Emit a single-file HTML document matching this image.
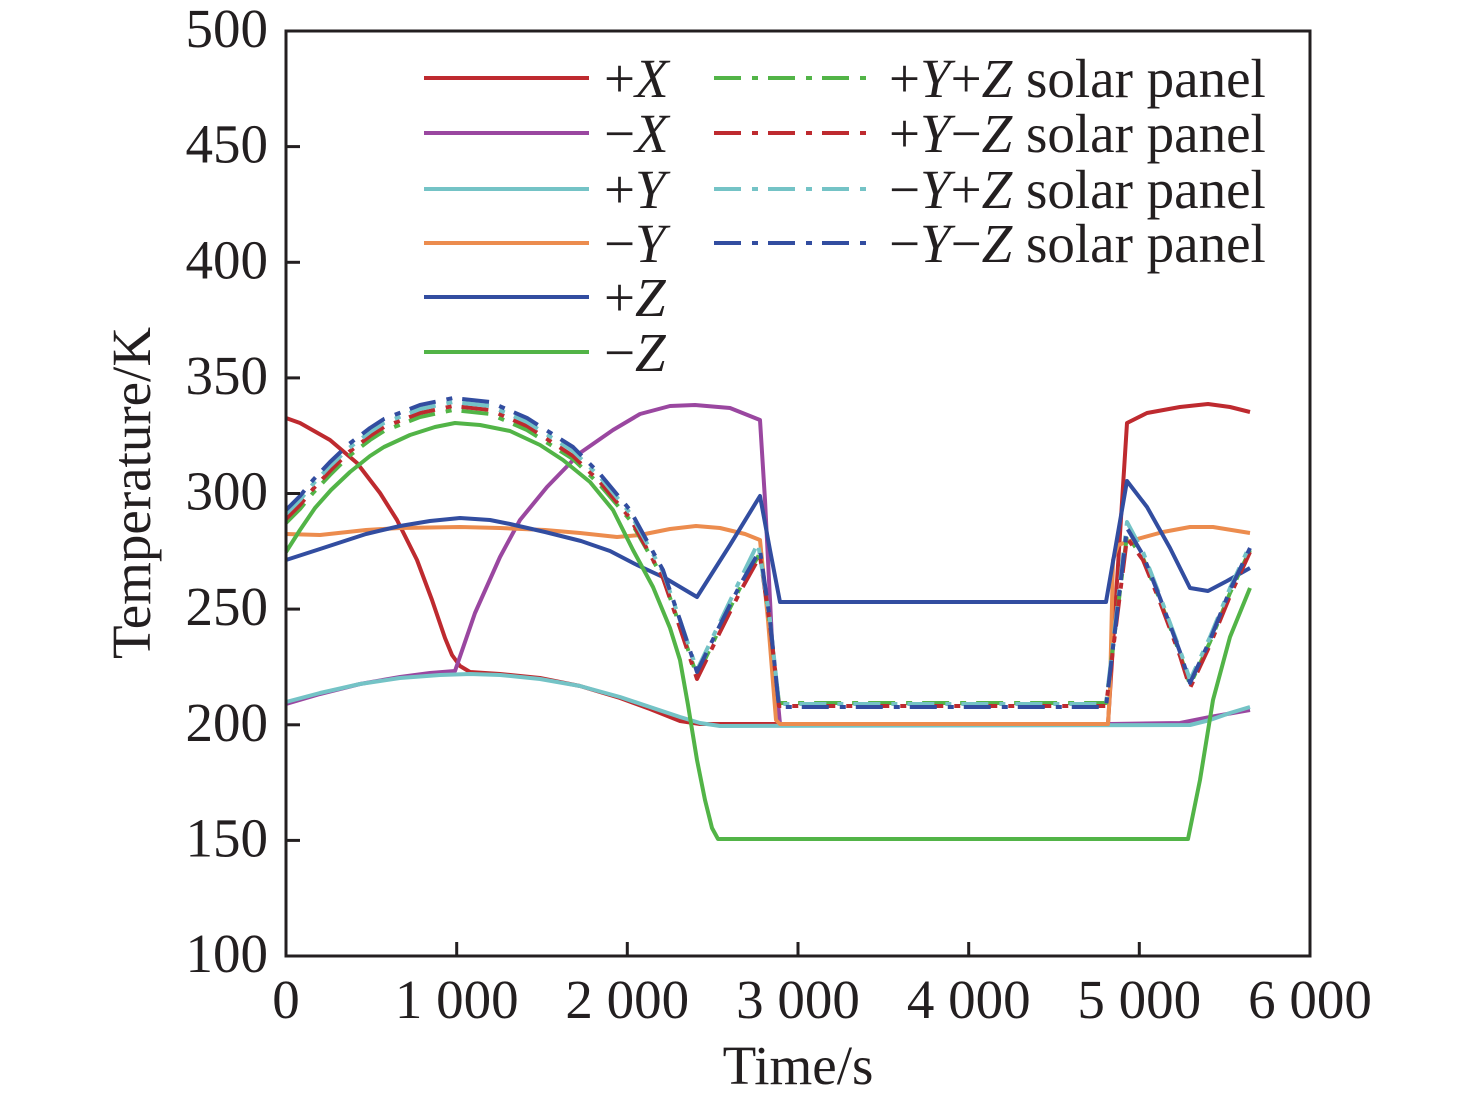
<!DOCTYPE html>
<html>
<head>
<meta charset="utf-8">
<style>
  html, body { margin:0; padding:0; background:#ffffff; }
  body { width:1476px; height:1104px; overflow:hidden; }
  svg { display:block; }
  text { font-family: "Liberation Serif", "Times New Roman", serif; fill:#231f20; }
</style>
</head>
<body>
<svg width="1476" height="1104" viewBox="0 0 1476 1104" xmlns="http://www.w3.org/2000/svg">
  <rect x="0" y="0" width="1476" height="1104" fill="#ffffff"/>

  <!-- Data series -->
  <g fill="none" stroke-linejoin="round" stroke-linecap="butt">
    <!-- +X red -->
    <polyline stroke="#be2a2f" stroke-width="4" points="286,418 300,423 330,440 357,463 380,493 397,520 417,560 432,600 445,638 452,655 460,666 470,672 500,674 540,678 580,686 620,698 650,709 680,721 700,724 1108,724 1127,423 1147,413 1180,407 1208,404 1230,407 1250,412"/>
    <!-- -X purple -->
    <polyline stroke="#9a47a0" stroke-width="4" points="286,704 320,694 360,684 400,677 430,673 455,671 475,613 500,557 520,520 547,487 580,453 613,430 640,414 670,406 695,405 730,408 760,420 765,500 772,640 780,724 1110,724 1180,723 1210,717 1250,710"/>
    <!-- +Y cyan -->
    <polyline stroke="#74c3c6" stroke-width="4" points="286,702 320,693 360,684 400,678 440,675 470,674 500,675 540,679 580,686 620,697 650,707 680,717 700,723 720,726 1190,725 1210,720 1230,713 1250,707"/>
    <!-- -Y orange -->
    <polyline stroke="#ec8c4e" stroke-width="4" points="286,534 320,535 366,530 400,528 460,527 500,528 545,530 580,533 617,537 640,535 670,529 696,526 720,528 745,534 760,540 768,620 776,720 780,724 1108,724 1110,690 1113,560 1118,545 1130,541 1163,532 1190,527 1213,527 1250,533"/>
    <!-- +Z blue -->
    <polyline stroke="#324da0" stroke-width="4" points="286,560 320,549 366,534 400,526 430,521 460,518 490,520 510,524 545,532 581,541 610,551 635,564 665,578 697,597 730,545 760,496 770,550 780,602 1106,602 1127,481 1147,507 1170,548 1190,588 1208,591 1227,581 1250,568"/>
    <!-- -Z green -->
    <polyline stroke="#52b447" stroke-width="4" points="286,552 300,530 315,508 331,490 350,472 370,456 384,447 410,435 435,427 455,423 480,425 510,431 540,445 563,460 590,482 613,510 633,550 653,587 670,628 680,660 688,705 697,760 705,800 712,828 718,839 1188,839 1200,780 1213,700 1230,637 1250,588"/>

    <!-- Solar panels (dash-dot) -->
    <!-- +Y+Z green -->
    <polyline stroke="#52b447" stroke-width="4" stroke-dasharray="27 11 6 10" points="286,523 300,509 313,493 330,475 349,456 370,440 384,431 420,417 453,410 490,414 527,430 573,459 600,485 630,520 663,578 680,626 697,676 720,628 740,588 760,553 770,625 779,703 1106,703 1127,535 1143,558 1160,600 1180,654 1190,685 1210,642 1230,593 1250,550"/>
    <!-- +Y-Z red -->
    <polyline stroke="#be2a2f" stroke-width="4" stroke-dasharray="27 11 6 10" points="286,519 300,505 313,489 330,471 349,452 370,436 384,427 420,413 453,406 490,410 527,426 573,456 600,482 630,518 663,578 680,628 697,679 720,632 740,592 760,556 770,625 779,706 1106,706 1127,538 1143,560 1160,602 1180,656 1190,688 1210,645 1230,596 1250,552"/>
    <!-- -Y+Z cyan -->
    <polyline stroke="#74c3c6" stroke-width="4" stroke-dasharray="27 11 6 10" points="286,514 300,500 313,484 330,466 349,448 370,432 384,423 420,409 453,402 490,406 527,422 573,451 600,477 630,513 663,572 680,620 697,670 720,622 740,580 758,543 770,620 779,704 1106,704 1127,522 1143,552 1160,596 1180,650 1190,680 1210,637 1230,588 1250,545"/>
    <!-- -Y-Z blue -->
    <polyline stroke="#324da0" stroke-width="4" stroke-dasharray="27 11 6 10" points="286,510 300,496 313,480 330,462 349,444 370,428 384,419 420,405 453,398 490,402 527,418 573,447 600,474 630,510 663,570 680,620 697,672 720,625 740,585 760,550 770,620 779,707 1106,707 1127,528 1143,555 1160,598 1180,652 1190,683 1210,640 1230,590 1250,548"/>
  </g>

  <!-- Axes frame -->
  <rect x="286" y="31" width="1024" height="925" fill="none" stroke="#231f20" stroke-width="3"/>

  <!-- Y ticks -->
  <g stroke="#231f20" stroke-width="3">
    <line x1="286" y1="840.4" x2="300" y2="840.4"/>
    <line x1="286" y1="724.8" x2="300" y2="724.8"/>
    <line x1="286" y1="609.1" x2="300" y2="609.1"/>
    <line x1="286" y1="493.5" x2="300" y2="493.5"/>
    <line x1="286" y1="377.9" x2="300" y2="377.9"/>
    <line x1="286" y1="262.3" x2="300" y2="262.3"/>
    <line x1="286" y1="146.6" x2="300" y2="146.6"/>
    <!-- X ticks -->
    <line x1="456.7" y1="956" x2="456.7" y2="942"/>
    <line x1="627.3" y1="956" x2="627.3" y2="942"/>
    <line x1="798" y1="956" x2="798" y2="942"/>
    <line x1="968.7" y1="956" x2="968.7" y2="942"/>
    <line x1="1139.3" y1="956" x2="1139.3" y2="942"/>
  </g>

  <!-- Y tick labels -->
  <g font-size="55" text-anchor="end">
    <text x="268" y="972">100</text>
    <text x="268" y="856.4">150</text>
    <text x="268" y="740.8">200</text>
    <text x="268" y="625.1">250</text>
    <text x="268" y="509.5">300</text>
    <text x="268" y="393.9">350</text>
    <text x="268" y="278.3">400</text>
    <text x="268" y="162.6">450</text>
    <text x="268" y="47">500</text>
  </g>

  <!-- X tick labels -->
  <g font-size="55" text-anchor="middle">
    <text x="286" y="1018">0</text>
    <text x="456.7" y="1018">1 000</text>
    <text x="627.3" y="1018">2 000</text>
    <text x="798" y="1018">3 000</text>
    <text x="968.7" y="1018">4 000</text>
    <text x="1139.3" y="1018">5 000</text>
    <text x="1310" y="1018">6 000</text>
  </g>

  <!-- Axis titles -->
  <text x="798" y="1084" font-size="55" text-anchor="middle">Time/s</text>
  <text transform="translate(150,493) rotate(-90)" font-size="55" text-anchor="middle">Temperature/K</text>

  <!-- Legend left column -->
  <g stroke-width="4" fill="none">
    <line x1="424" y1="78" x2="589" y2="78" stroke="#be2a2f"/>
    <line x1="424" y1="133" x2="589" y2="133" stroke="#9a47a0"/>
    <line x1="424" y1="189" x2="589" y2="189" stroke="#74c3c6"/>
    <line x1="424" y1="243" x2="589" y2="243" stroke="#ec8c4e"/>
    <line x1="424" y1="297" x2="589" y2="297" stroke="#324da0"/>
    <line x1="424" y1="352" x2="589" y2="352" stroke="#52b447"/>
  </g>
  <g font-size="55">
    <text x="604" y="97">+<tspan font-style="italic">X</tspan></text>
    <text x="604" y="152">−<tspan font-style="italic">X</tspan></text>
    <text x="604" y="208">+<tspan font-style="italic">Y</tspan></text>
    <text x="604" y="262">−<tspan font-style="italic">Y</tspan></text>
    <text x="604" y="316">+<tspan font-style="italic">Z</tspan></text>
    <text x="604" y="371">−<tspan font-style="italic">Z</tspan></text>
  </g>

  <!-- Legend right column -->
  <g stroke-width="4" fill="none" stroke-dasharray="27 11 6 10">
    <line x1="714" y1="78" x2="866" y2="78" stroke="#52b447"/>
    <line x1="714" y1="133" x2="866" y2="133" stroke="#be2a2f"/>
    <line x1="714" y1="189" x2="866" y2="189" stroke="#74c3c6"/>
    <line x1="714" y1="243" x2="866" y2="243" stroke="#324da0"/>
  </g>
  <g font-size="55">
    <text x="889" y="97">+<tspan font-style="italic">Y</tspan>+<tspan font-style="italic">Z</tspan> solar panel</text>
    <text x="889" y="152">+<tspan font-style="italic">Y</tspan>−<tspan font-style="italic">Z</tspan> solar panel</text>
    <text x="889" y="208">−<tspan font-style="italic">Y</tspan>+<tspan font-style="italic">Z</tspan> solar panel</text>
    <text x="889" y="262">−<tspan font-style="italic">Y</tspan>−<tspan font-style="italic">Z</tspan> solar panel</text>
  </g>
</svg>
</body>
</html>
